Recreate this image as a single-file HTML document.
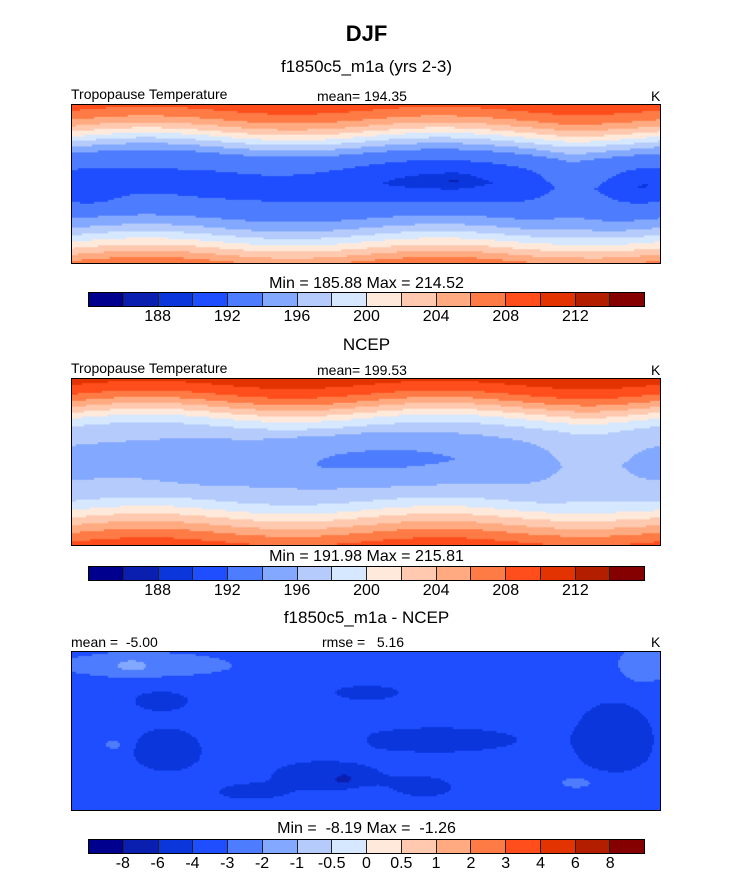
<!DOCTYPE html>
<html><head><meta charset="utf-8">
<style>
body{margin:0;background:#fff;width:733px;height:883px;position:relative;overflow:hidden;font-family:"Liberation Sans",sans-serif;color:#000}
.t{position:absolute;white-space:pre}
canvas{position:absolute;border:1px solid #000;box-sizing:border-box}
.cb{position:absolute;display:flex;border:1px solid #000;box-sizing:border-box}
.cb div{flex:1;border-right:1px solid #222}
.cb div:last-child{border-right:none}
.lab{position:absolute;font-size:16px;transform:translateX(-50%)}
</style></head><body>
<div class="t" style="left:0;width:733px;text-align:center;top:21px;font-size:22px;font-weight:bold">DJF</div>
<div class="t" style="left:0;width:733px;text-align:center;top:57px;font-size:17px">f1850c5_m1a (yrs 2-3)</div>
<div class="t" style="left:71px;top:86px;font-size:14px">Tropopause Temperature</div>
<div class="t" style="left:317px;top:88px;font-size:14px">mean= 194.35</div>
<div class="t" style="left:651px;top:88px;font-size:14px">K</div>
<canvas id="c1" width="590" height="160" style="left:71px;top:104px;width:590px;height:160px"></canvas>
<div class="t" style="left:0;width:733px;text-align:center;top:275px;font-size:16px">Min = 185.88 Max = 214.52</div>
<div class="cb" id="cb1" style="left:88px;top:292px;width:557px;height:15px"></div>

<div class="t" style="left:0;width:733px;text-align:center;top:335px;font-size:17px">NCEP</div>
<div class="t" style="left:71px;top:360px;font-size:14px">Tropopause Temperature</div>
<div class="t" style="left:317px;top:362px;font-size:14px">mean= 199.53</div>
<div class="t" style="left:651px;top:362px;font-size:14px">K</div>
<canvas id="c2" width="590" height="168" style="left:71px;top:378px;width:590px;height:168px"></canvas>
<div class="t" style="left:0;width:733px;text-align:center;top:548px;font-size:16px">Min = 191.98 Max = 215.81</div>
<div class="cb" id="cb2" style="left:88px;top:566px;width:557px;height:15px"></div>

<div class="t" style="left:0;width:733px;text-align:center;top:608px;font-size:17px">f1850c5_m1a - NCEP</div>
<div class="t" style="left:71px;top:634px;font-size:14px">mean =  -5.00</div>
<div class="t" style="left:322px;top:634px;font-size:14px">rmse =   5.16</div>
<div class="t" style="left:651px;top:634px;font-size:14px">K</div>
<canvas id="c3" width="590" height="160" style="left:71px;top:651px;width:590px;height:160px"></canvas>
<div class="t" style="left:0;width:733px;text-align:center;top:820px;font-size:16px">Min =  -8.19 Max =  -1.26</div>
<div class="cb" id="cb3" style="left:88px;top:839px;width:557px;height:15px"></div>

<script>
const colors=["#00008f","#0a1fb0","#0a36dc","#1e4eff","#4d7cff","#82a8ff","#b4cbfb","#d6e8ff","#ffe9da","#ffc9b0","#ffaa80","#ff7b46","#ff4e1c","#e23300","#b31d00","#850000"];
const levels1=[186,188,190,192,194,196,198,200,202,204,206,208,210,212,214];
const ticks1=["188","192","196","200","204","208","212"];
const levels3=[-8,-6,-4,-3,-2,-1,-0.5,0,0.5,1,2,3,4,6,8];
const ticks3=["-8","-6","-4","-3","-2","-1","-0.5","0","0.5","1","2","3","4","6","8"];
// latitude profiles (v = 0 top .. 1 bottom)
const profV=[0,0.1,0.17,0.24,0.32,0.5,0.68,0.76,0.84,0.92,1];
const prof1=[209,205.5,201.5,197,193,191.2,193,195.5,199,203,207];
const prof2=[211,207.5,203.5,199.5,196.5,195.3,196.5,199,202.5,206,209];
const prof3=[-3.4,-3.4,-3.5,-3.6,-3.6,-3.6,-3.6,-3.5,-3.5,-3.5,-3.5];
// blobs: [u, v, su, sv, amplitude]
const blobs1=[[0.62,0.48,0.14,0.12,-1.9],[0.03,0.52,0.04,0.09,-1.3],[0.97,0.5,0.04,0.09,-1.3],[0.24,0.5,0.04,0.05,-1.1],[0.65,0.47,0.025,0.035,-1.6],[0.85,0.5,0.05,0.3,1.5]];
const blobs2=[[0.52,0.47,0.2,0.13,-2.0],[0.22,0.5,0.08,0.1,-1.1],[0.88,0.5,0.06,0.25,1.6]];
const blobs3=[[0.12,0.08,0.18,0.1,0.8],[0.1,0.08,0.035,0.05,1.0],[0.97,0.08,0.04,0.12,1.3],[0.07,0.58,0.02,0.04,1.0],[0.47,0.55,0.02,0.07,0.9],[0.86,0.82,0.04,0.05,0.9],[0.15,0.3,0.06,0.08,-0.7],[0.62,0.55,0.14,0.08,-1.0],[0.92,0.55,0.07,0.25,-1.0],[0.16,0.62,0.06,0.15,-1.0],[0.43,0.78,0.11,0.1,-1.0],[0.46,0.8,0.015,0.03,-3.5],[0.3,0.88,0.06,0.05,-1.0],[0.5,0.25,0.06,0.05,-0.9],[0.6,0.85,0.06,0.08,-0.8]];
function interp(xs,ys,x){for(let i=0;i<xs.length-1;i++){if(x<=xs[i+1]){const t=(x-xs[i])/(xs[i+1]-xs[i]);return ys[i]+t*(ys[i+1]-ys[i]);}}return ys[ys.length-1];}
function draw(id,prof,blobs,levels,wav){
  const c=document.getElementById(id),ctx=c.getContext('2d'),W=c.width,H=c.height,s=2;
  for(let y=0;y<H;y+=s)for(let x=0;x<W;x+=s){
    const u=x/W,v=y/H;
    let val=interp(profV,prof,v+wav*Math.sin(u*12.6));
    for(const b of blobs){const du=(u-b[0])/b[2],dv=(v-b[1])/b[3];val+=b[4]*Math.exp(-(du*du+dv*dv));}
    let k=0;while(k<levels.length&&val>levels[k])k++;
    ctx.fillStyle=colors[k];ctx.fillRect(x,y,s,s);
  }
}
draw('c1',prof1,blobs1,levels1,0.025);
draw('c2',prof2,blobs2,levels1,0.025);
draw('c3',prof3,blobs3,levels3,0);
function bar(id,ticks,every){
  const el=document.getElementById(id);
  colors.forEach((col,i)=>{const d=document.createElement('div');
    
    
    d.style.background=col;el.appendChild(d);});
  const L=88,W=557,top=parseInt(el.style.top)+16;
  ticks.forEach((t,i)=>{const d=document.createElement('div');
    
    
    d.className='lab';d.textContent=t;
    const idx=(i+1)*every;d.style.left=(L+W*idx/16)+'px';d.style.top=top+'px';document.body.appendChild(d);});
}
bar('cb1',ticks1,2);bar('cb2',ticks1,2);bar('cb3',ticks3,1);
</script>
</body></html>
